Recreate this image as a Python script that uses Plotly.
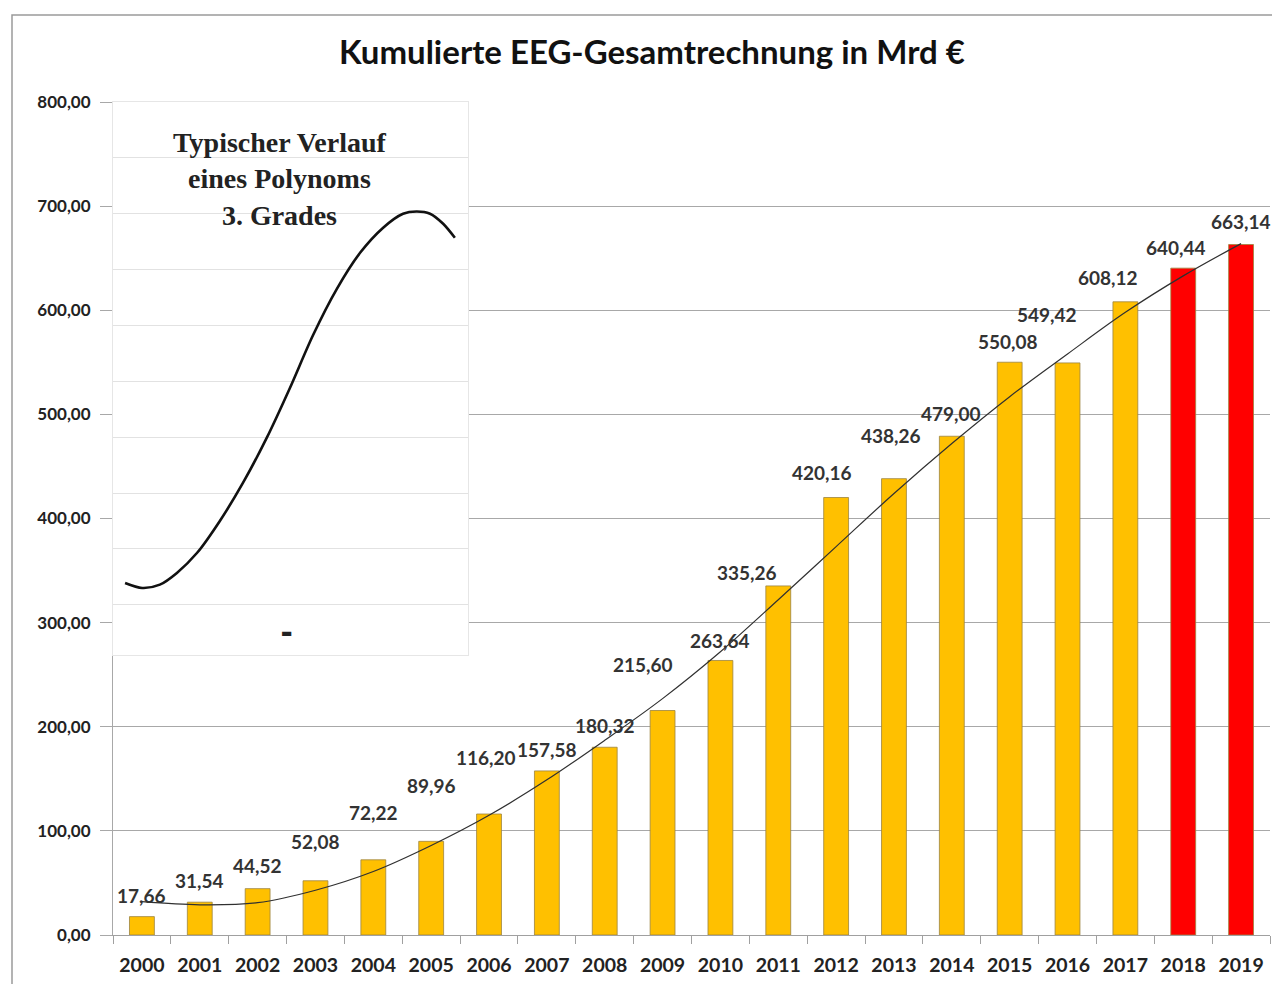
import plotly.graph_objects as go

years = [str(y) for y in range(2000, 2020)]
values = [17.66, 31.54, 44.52, 52.08, 72.22, 89.96, 116.20, 157.58, 180.32, 215.60,
          263.64, 335.26, 420.16, 438.26, 479.00, 550.08, 549.42, 608.12, 640.44, 663.14]
value_labels = ["17,66", "31,54", "44,52", "52,08", "72,22", "89,96", "116,20", "157,58", "180,32", "215,60",
                "263,64", "335,26", "420,16", "438,26", "479,00", "550,08", "549,42", "608,12", "640,44", "663,14"]
# Trend line (3rd degree polynomial trendline)
trend = [32, 29, 31, 43, 61, 86, 115, 149, 187, 227, 272, 322, 373, 424, 472, 517, 558, 598, 633, 664]
# Inset curve "typical course of a cubic polynomial" (inset units)
inset_x = [0.34, 0.82, 1.32, 1.80, 2.37, 3.01, 3.66, 4.34, 4.99, 5.63, 6.31, 6.96, 7.61, 8.17, 8.56, 8.93, 9.30, 9.63]
inset_y = [0.39, 0.30, 0.36, 0.57, 0.93, 1.50, 2.18, 3.00, 3.89, 4.82, 5.66, 6.30, 6.75, 7.00, 7.04, 7.00, 6.82, 6.57]

# label offsets (px) as placed in the original
label_dx = [0, 0, 0, 0, 0, 0, -3, 0, 0, -20, 0, -31, -14, -3, -1, -2, -21, -17, -7, 0]
label_dy = [21, 22, 23, 39, 47, 56, 57, 21, 22, 46, 20, 13, 25, 43, 23, 21, 48, 24, 21, 23]

ORANGE = "#FFC000"
RED = "#FF0000"
colors = [ORANGE] * 18 + [RED] * 2

# page offset (default body margin of the html page)
OFF = 8
W, H = 1280 - OFF, 984 - OFF
L, T, R, B = 113 - OFF, 102 - OFF, 10, 49
PW, PH = W - L - R, H - T - B

fig = go.Figure()
fig.add_trace(go.Bar(
    x=years, y=values, marker=dict(color=colors, line=dict(color="#9C8440", width=0.8)),
    hoverinfo="x+y", showlegend=False,
))
fig.add_trace(go.Scatter(
    x=years, y=trend, mode="lines", line=dict(color="#303030", width=1.2, shape="spline"),
    showlegend=False, hoverinfo="skip",
))
fig.add_trace(go.Scatter(
    x=inset_x, y=inset_y, xaxis="x2", yaxis="y2", mode="lines",
    line=dict(color="#111111", width=2.6, shape="spline", smoothing=0.8),
    showlegend=False, hoverinfo="skip",
))

annotations = []
for i, (v, lab, dx, dy) in enumerate(zip(values, value_labels, label_dx, label_dy)):
    annotations.append(dict(
        x=i, y=v, xref="x", yref="y", text=lab, showarrow=False,
        xshift=dx, yshift=dy, yanchor="middle",
        font=dict(family="Lato", size=19, color="#333333", weight="bold"),
    ))
annotations.append(dict(
    x=4.7, y=7.63, xref="x2", yref="y2",
    text="Typischer Verlauf<br>eines Polynoms<br>3. Grades", showarrow=False,
    align="center", yanchor="middle",
    font=dict(family="Liberation Serif", size=28, color="#222222", weight="bold"),
))
annotations.append(dict(
    x=4.9, y=-0.5, xref="x2", yref="y2", text="▬", showarrow=False,
    font=dict(family="DejaVu Sans", size=12, color="#222222"),
))

fig.update_layout(
    width=W, height=H,
    paper_bgcolor="white", plot_bgcolor="white",
    margin=dict(l=L, r=R, t=T, b=B, autoexpand=False),
    separators=",.",
    bargap=0.57,
    title=dict(text="Kumulierte EEG-Gesamtrechnung in Mrd €", x=(652 - OFF) / W, xanchor="center",
               xref="container",
               y=1 - (52 - OFF) / H, yanchor="middle",
               font=dict(family="Lato", size=33, color="#111111", weight="bold")),
    xaxis=dict(
        type="category", range=[-0.5, 19.5], showgrid=False, showline=True, linecolor="#A0A0A0",
        linewidth=1, ticks="outside", tickson="boundaries", ticklen=8, tickcolor="#A0A0A0",
        ticklabelstandoff=13, tickangle=0, automargin=False,
        tickfont=dict(family="Lato", size=19.5, color="#222222", weight="bold"),
        domain=[0, 1],
    ),
    yaxis=dict(
        range=[0, 800], dtick=100, tickformat=".2f", showgrid=True, gridcolor="#A8A8A8",
        gridwidth=1, showline=True, linecolor="#A8A8A8", linewidth=1, zeroline=False,
        ticks="outside", ticklen=12, tickcolor="#A8A8A8", ticklabelstandoff=6, automargin=False,
        tickfont=dict(family="Lato", size=17, color="#222222", weight="bold"),
    ),
    xaxis2=dict(
        domain=[0, (468 - 113) / PW], anchor="y2", range=[0, 10], showgrid=False,
        showticklabels=False, ticks="", zeroline=False, showline=True, mirror=True,
        linecolor="#E6E6E6", linewidth=1,
    ),
    yaxis2=dict(
        domain=[(935 - 655) / PH, 1.0], anchor="x2", range=[-0.9, 9], dtick=1,
        showgrid=True, gridcolor="#E2E2E2", gridwidth=1, showticklabels=False, ticks="",
        zeroline=False, showline=True, mirror=True, linecolor="#E6E6E6", linewidth=1,
    ),
    annotations=annotations,
    shapes=[dict(type="rect", xref="paper", yref="paper",
                 x0=(12 - 113) / PW, x1=(1290 - 113) / PW,
                 y0=(935 - 995) / PH, y1=(935 - 15) / PH,
                 line=dict(color="#9A9A9A", width=1.5), fillcolor="rgba(0,0,0,0)", layer="below")],
)

fig.write_html("out.html")
